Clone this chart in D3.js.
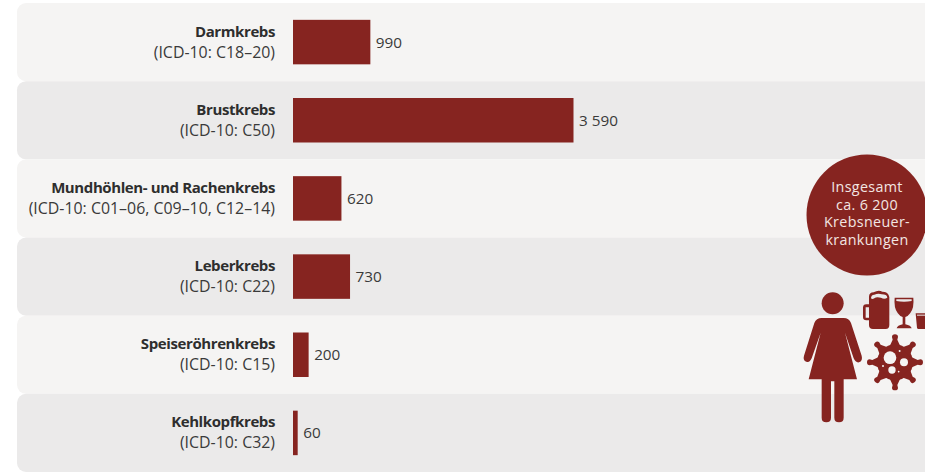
<!DOCTYPE html>
<html lang="de">
<head>
<meta charset="utf-8">
<script src="https://cdn.jsdelivr.net/npm/d3@7"></script>
<style>
  html, body { margin: 0; background: #fff; }
  svg { display: block; font-family: "Open Sans", sans-serif; }
</style>
</head>
<body>
<svg id="chart" width="925" height="473"></svg>
<script>
// Alcohol-attributable new cancer cases in women, by site
const cancers = ["Darmkrebs", "Brustkrebs", "Mundhöhlen- und Rachenkrebs", "Leberkrebs", "Speiseröhrenkrebs", "Kehlkopfkrebs"];
const icdCodes = ["(ICD-10: C18–20)", "(ICD-10: C50)", "(ICD-10: C01–06, C09–10, C12–14)", "(ICD-10: C22)", "(ICD-10: C15)", "(ICD-10: C32)"];
const cases = [990, 3590, 620, 730, 200, 60];
const valueLabels = ["990", "3 590", "620", "730", "200", "60"];
const totalLines = ["Insgesamt", "ca. 6 200", "Krebsneuer-", "krankungen"];

const RED = "#862420";
const svg = d3.select("#chart");

const y = d3.scaleBand().domain(cancers).range([3, 472]).padding(0);
const x = d3.scaleLinear().domain([0, 3590]).range([293, 573.5]);
const barHeight = 44.5;

const rows = svg.append("g").selectAll("g").data(cancers).join("g");

// Alternating row bands, running off the right edge
rows.append("rect")
  .attr("x", 17).attr("y", d => y(d))
  .attr("width", 960).attr("height", y.bandwidth())
  .attr("rx", 9)
  .attr("fill", (d, i) => i % 2 ? "#ebeaea" : "#f5f4f3");

rows.append("rect")
  .attr("x", x(0))
  .attr("y", d => y(d) + (y.bandwidth() - barHeight) / 2)
  .attr("width", (d, i) => x(cases[i]) - x(0))
  .attr("height", barHeight)
  .attr("fill", RED);

const labelX = 275;
rows.append("text")
  .attr("x", labelX).attr("y", d => y(d) + y.bandwidth() / 2 - 5.5)
  .attr("text-anchor", "end")
  .attr("font-size", 15).attr("font-weight", 700).attr("letter-spacing", -0.4).attr("fill", "#2e2e2e")
  .text(d => d);

rows.append("text")
  .attr("x", labelX).attr("y", d => y(d) + y.bandwidth() / 2 + 15.5)
  .attr("text-anchor", "end")
  .attr("font-size", 15.9).attr("fill", "#3a3a3a")
  .text((d, i) => icdCodes[i]);

rows.append("text")
  .attr("x", (d, i) => x(cases[i]) + 5.5)
  .attr("y", d => y(d) + y.bandwidth() / 2 + 5.5)
  .attr("font-size", 15.3).attr("fill", "#3a3a3a")
  .text((d, i) => valueLabels[i]);

// Total badge
svg.append("circle").attr("cx", 867).attr("cy", 215).attr("r", 60.5).attr("fill", RED);
svg.append("g").selectAll("text").data(totalLines).join("text")
  .attr("x", 867).attr("y", (d, i) => 192 + i * 17.7)
  .attr("text-anchor", "middle")
  .attr("font-size", 14.3).attr("letter-spacing", 0.35).attr("fill", "#f3e6e3")
  .text(d => d);

// Icons: woman, beer mug, wine glass, shot glass, cell
const icons = svg.append("g").attr("transform", "translate(795,285) scale(0.3333)").attr("fill", RED);

icons.append("circle").attr("cx", 113).attr("cy", 55).attr("r", 33);
icons.append("path").attr("d",
  "M80 99 H146 Q162 99 168 114 L200 212 Q204 228 192 232 Q182 234 176 220 L150 143 L186 283 H146 V398 " +
  "Q146 412 132 412 Q118 412 118 398 V289 H108 V398 Q108 412 94 412 Q80 412 80 398 V283 H41 L77 143 " +
  "L50 220 Q44 234 34 230 Q23 226 27 212 L58 114 Q64 99 80 99 Z");

// Beer mug with foam crown and handle
icons.append("path").attr("fill-rule", "evenodd").attr("d",
  "M222 36 Q222 22 236 22 Q250 14 262 20 Q280 20 283 36 V120 Q283 132 272 132 H234 Q222 132 222 120 V106 H214 " +
  "Q204 106 204 96 V68 Q204 58 214 58 H222 Z M212 67 V98 H222 V67 Z");
icons.append("path").attr("fill", "#ebeaea")
  .attr("d", "M228 40 Q228 30 238 29 Q250 24 260 28 Q276 28 277 38 Q268 44 258 38 Q244 34 238 40 Q232 44 228 40 Z");

// Wine glass
icons.append("path").attr("d",
  "M299 38 H355 Q358 68 346 84 Q339 94 331 96 V118 Q348 121 350 130 H305 Q307 121 323 118 V96 Q315 94 308 84 Q296 68 299 38 Z");
icons.append("path").attr("fill", "#ebeaea").attr("d", "M304 43 H350 L350 48 Q327 52 304 48 Z");

// Shot glass, cut by the page edge
icons.append("path").attr("d", "M362 85 H400 V132 H370 Q367 132 366 128 Z");
icons.append("rect").attr("x", 366).attr("y", 89).attr("width", 30).attr("height", 3).attr("fill", "#ebeaea");

// Cell with spikes
const cx = 300, cy = 232;
const spikeAngles = d3.range(8).map(i => i * 45);
icons.append("circle").attr("cx", cx).attr("cy", cy).attr("r", 54);
icons.selectAll("path.spike").data(spikeAngles).join("path")
  .attr("transform", d => `translate(${cx},${cy}) rotate(${d})`)
  .attr("d", "M44 -18 L68 -7 L76 -9 Q84 -9 84 0 Q84 9 76 9 L68 7 L44 18 Z");
const holes = [[285, 218, 19], [327, 232, 12], [291, 255, 11], [314, 198, 3], [264, 243, 3], [311, 260, 2.5]];
icons.selectAll("circle.hole").data(holes).join("circle")
  .attr("cx", d => d[0]).attr("cy", d => d[1]).attr("r", d => d[2]).attr("fill", "#f5f4f3");
</script>
</body>
</html>
